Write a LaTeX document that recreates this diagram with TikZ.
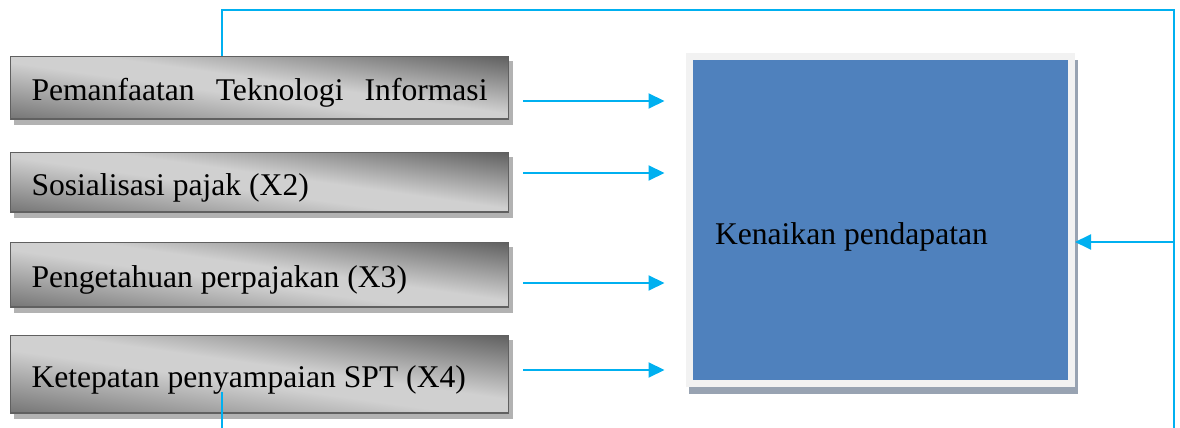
\documentclass[tikz,border=0pt]{standalone}
\usepackage{fontspec}
\setmainfont{Liberation Serif}
\usepackage{tikz}
\usetikzlibrary{arrows.meta, positioning, shadows, calc}

\definecolor{linkblue}{HTML}{00B0F0}
\definecolor{boxedge}{HTML}{606060}
\definecolor{boxdarka}{HTML}{767676}
\definecolor{boxdarkb}{HTML}{626262}
\definecolor{boxlight}{HTML}{D0D0D0}
\definecolor{boxshadow}{HTML}{B2B2B2}
\definecolor{hasilfill}{HTML}{4F81BD}
\definecolor{hasilrim}{HTML}{F2F2F2}
\definecolor{hasilshadow}{HTML}{98A3B2}

\pgfdeclareverticalshading{varshade}{100bp}{color(0bp)=(boxdarka); color(22bp)=(boxdarka);
  color(46bp)=(boxlight); color(54bp)=(boxlight); color(78bp)=(boxdarkb); color(100bp)=(boxdarkb)}

\begin{document}
\begin{tikzpicture}[
      x=1pt, y=1pt,
      font=\fontsize{31.6}{38}\selectfont,
      varbox/.style={rectangle, draw=boxedge, line width=1.5pt,
        shading=varshade, shading angle=-8,
        general shadow={fill=boxshadow, draw=boxshadow, line width=1.5pt,
          shadow xshift=4pt, shadow yshift=-5pt},
        minimum width=498pt, text width=456pt, align=flush left,
        inner xsep=21pt, inner ysep=0pt, text height=40pt, text depth=14pt},
      hasilbox/.style={rectangle, draw=hasilrim, fill=hasilfill, line width=7pt,
        general shadow={fill=hasilshadow, draw=hasilshadow, line width=7pt,
          shadow xshift=3pt, shadow yshift=-7pt},
        minimum width=382pt, minimum height=327pt, text width=331pt, align=flush left,
        inner xsep=25.5pt, text height=72pt, text depth=22pt},
      link/.style={draw=linkblue, line width=2pt},
      arr/.style={link, -{Triangle[length=16pt, width=15pt]}}
    ]
    \useasboundingbox (0,0) rectangle (1180,428);

    % variabel bebas
    \node[varbox, minimum height=62.5pt] (ti) at (259.5,340)
      {\makebox[456pt][l]{Pemanfaatan\hfill Teknologi\hfill Informasi}};
    \node[varbox, minimum height=59.5pt] (sos) at (259.5,245.5) {Sosialisasi pajak (X2)};
    \node[varbox, minimum height=64.5pt] (peng) at (259.5,153) {Pengetahuan perpajakan (X3)};
    \node[varbox, minimum height=77.5pt] (spt) at (259.5,53.5) {Ketepatan penyampaian SPT (X4)};

    % variabel terikat
    \node[hasilbox] (hasil) at (880.5,208) {Kenaikan pendapatan};

    % panah ke kotak hasil
    \draw[arr, shorten <=14pt, shorten >=21.5pt] ([yshift=-13pt]ti.east) -- ([yshift=-13pt]ti.east -| hasil.west);
    \draw[arr, shorten <=14pt, shorten >=21.5pt] ([yshift=9.5pt]sos.east) -- ([yshift=9.5pt]sos.east -| hasil.west);
    \draw[arr, shorten <=14pt, shorten >=21.5pt] ([yshift=-8pt]peng.east) -- ([yshift=-8pt]peng.east -| hasil.west);
    \draw[arr, shorten <=14pt, shorten >=21.5pt] ([yshift=4.5pt]spt.east) -- ([yshift=4.5pt]spt.east -| hasil.west);

    % garis umpan balik
    \coordinate (puncak) at (222,418);
    \coordinate (sudut) at (1174,418);
    \coordinate (dasar) at (1174,0);
    \coordinate (ekor) at (222,36);
    \draw[link] (ti.north -| puncak) -- (puncak) -- (sudut) -- (dasar);
    \draw[arr] ([yshift=-22pt]hasil.east -| sudut) -- ([yshift=-22pt]hasil.east);
    \draw[link] (ekor) -- (ekor |- dasar);
\end{tikzpicture}
\end{document}
